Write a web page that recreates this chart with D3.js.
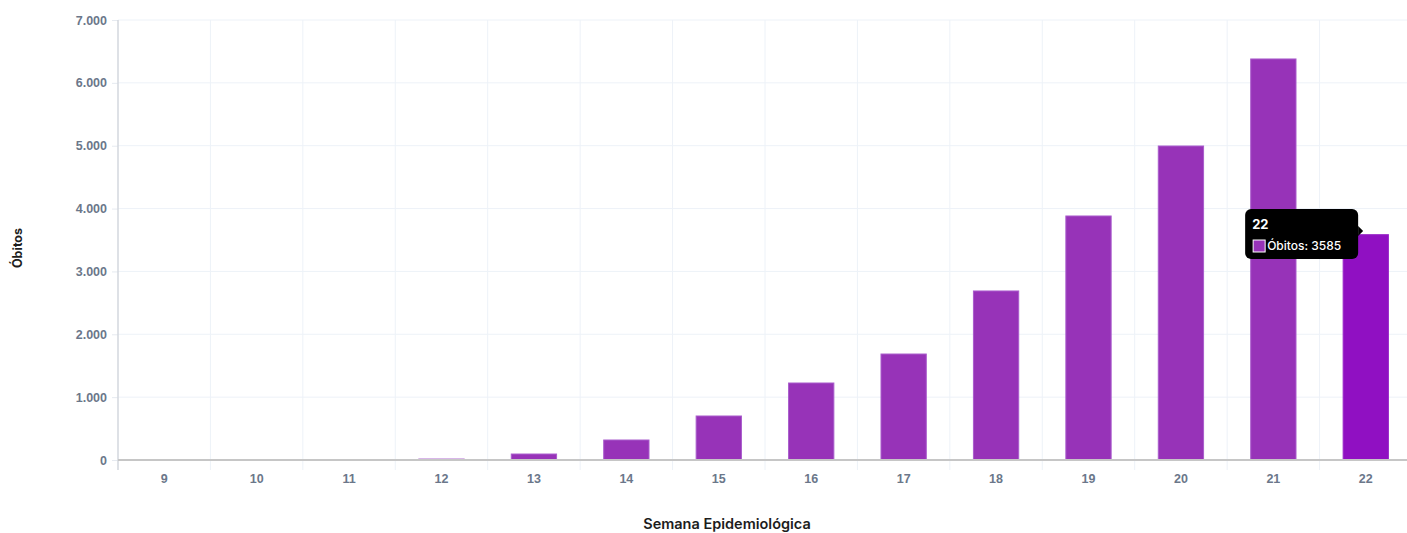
<!DOCTYPE html>
<html>
<head>
<meta charset="utf-8">
<script src="https://cdn.jsdelivr.net/npm/d3@7"></script>
<style>
  body { margin: 0; background: #fff; overflow: hidden; }
  svg { display: block; font-family: "Inter", "Open Sans", sans-serif; }
  .tick text { fill: #6b778a; font-size: 12.5px; font-weight: 600; }
</style>
</head>
<body>
<div id="chart"></div>
<script>
// Semanas epidemiológicas e óbitos
const weeks = ["9", "10", "11", "12", "13", "14", "15", "16", "17", "18", "19", "20", "21", "22"];
const deaths = [0, 0, 0, 15, 95, 318, 700, 1225, 1686, 2689, 3882, 4995, 6380, 3585];
const yTicks = [0, 1000, 2000, 3000, 4000, 5000, 6000, 7000];
const hoverWeek = "22";

const W = 1407, H = 533;
const margin = { top: 20, left: 118, bottom: 73 };
const plotRight = 1412;

var svg = d3.select("#chart").append("svg")
  .attr("width", W)
  .attr("height", H);

var x = d3.scaleBand()
  .domain(weeks)
  .range([margin.left, plotRight])
  .paddingInner(0.51)
  .paddingOuter(0.255);

var y = d3.scaleLinear()
  .domain([0, 7000])
  .range([H - margin.bottom, margin.top]);

var fmt = function(v) { return d3.format(",")(v).replace(/,/g, "."); };

// vertical grid at band edges
var step = x.step();
var edges = weeks.map(function(w) { return x(w) - x.paddingInner() * step / 2; }).slice(1);
svg.append("g").selectAll("line")
  .data(edges)
  .join("line")
  .attr("x1", function(d) { return d; })
  .attr("x2", function(d) { return d; })
  .attr("y1", margin.top)
  .attr("y2", y(0) + 10)
  .attr("stroke", "#edf2f8")
  .attr("stroke-width", 1);

// horizontal grid
svg.append("g").selectAll("line")
  .data(yTicks.slice(1))
  .join("line")
  .attr("x1", margin.left)
  .attr("x2", plotRight)
  .attr("y1", function(d) { return y(d); })
  .attr("y2", function(d) { return y(d); })
  .attr("stroke", "#edf2f8");

// y axis
var yAxis = svg.append("g")
  .attr("transform", "translate(" + margin.left + ",0)")
  .call(d3.axisLeft(y).tickValues(yTicks).tickFormat(fmt).tickSize(6).tickPadding(5));
yAxis.select(".domain").remove();
yAxis.selectAll(".tick line").attr("stroke", "#e6eaf0");
svg.append("line")
  .attr("x1", margin.left).attr("x2", margin.left)
  .attr("y1", margin.top).attr("y2", y(0) + 10)
  .attr("stroke", "#d3d7de").attr("stroke-width", 1.5);

// bars
svg.append("g").selectAll("rect")
  .data(weeks)
  .join("rect")
  .attr("x", function(d) { return x(d); })
  .attr("width", x.bandwidth())
  .attr("y", function(d, i) { return y(deaths[i]); })
  .attr("height", function(d, i) { return y(0) - y(deaths[i]); })
  .attr("fill", function(d) { return d === hoverWeek ? "#9010c2" : "#9733b8"; })
  .attr("stroke", function(d) { return d === hoverWeek ? "#9a2bc8" : "#a95ccc"; })
  .attr("stroke-width", 1);

// x axis
var xAxis = svg.append("g")
  .attr("transform", "translate(0," + y(0) + ")")
  .call(d3.axisBottom(x).tickSize(0).tickPadding(14));
xAxis.select(".domain").remove();
svg.append("line")
  .attr("x1", margin.left).attr("x2", plotRight)
  .attr("y1", y(0)).attr("y2", y(0))
  .attr("stroke", "#c6c6c6").attr("stroke-width", 2);

// axis titles
svg.append("text")
  .attr("transform", "translate(22," + ((margin.top + y(0)) / 2 + 8) + ") rotate(-90)")
  .attr("text-anchor", "middle")
  .attr("font-size", 12.5)
  .attr("font-weight", 700)
  .attr("fill", "#1d1d1d")
  .text("Óbitos");

svg.append("text")
  .attr("x", 727)
  .attr("y", 529)
  .attr("text-anchor", "middle")
  .attr("font-size", 14.5)
  .attr("font-weight", 600)
  .attr("fill", "#1d1d1d")
  .text("Semana Epidemiológica");

// tooltip for the hovered bar
var hi = weeks.indexOf(hoverWeek);
var tipRight = x(hoverWeek) + 15;
var tipW = 113, tipH = 50;
var tipX = tipRight - tipW, tipY = 209;
var tip = svg.append("g");
tip.append("rect")
  .attr("x", tipX).attr("y", tipY)
  .attr("width", tipW).attr("height", tipH)
  .attr("rx", 6)
  .attr("fill", "#000");
tip.append("path")
  .attr("d", "M" + tipRight + "," + (tipY + 17) + " l5,5 l-5,5 z")
  .attr("fill", "#000");
tip.append("text")
  .attr("x", tipX + 7).attr("y", tipY + 20)
  .attr("fill", "#fff")
  .attr("font-size", 13)
  .attr("font-weight", 700)
  .text(hoverWeek);
tip.append("rect")
  .attr("x", tipX + 8).attr("y", tipY + 31)
  .attr("width", 12).attr("height", 12)
  .attr("fill", "#9733b8")
  .attr("stroke", "#fff")
  .attr("stroke-width", 1);
tip.append("text")
  .attr("x", tipX + 22).attr("y", tipY + 41)
  .attr("fill", "#fff")
  .attr("font-size", 12)
  .attr("font-weight", 500)
  .text("Óbitos: " + deaths[hi]);
</script>
</body>
</html>
